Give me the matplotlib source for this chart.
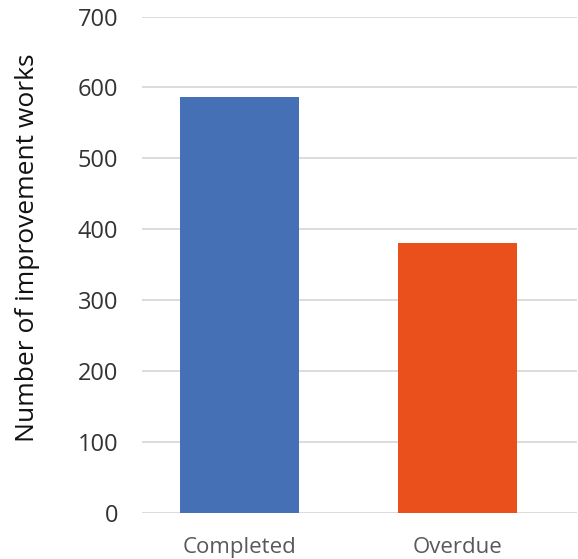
import matplotlib.pyplot as plt
import numpy as np

categories = ['Completed', 'Overdue']
works = [586, 380]
bar_colors = ['#4570b6', '#ea501c']

plt.rcParams['font.family'] = ['Open Sans', 'DejaVu Sans']

fig = plt.figure(figsize=(5.78, 5.59), dpi=100)
ax = fig.add_axes([142 / 578, 46 / 559, 435 / 578, 496.5 / 559])

x = np.arange(len(categories))
ax.bar(x, works, 0.546, color=bar_colors, zorder=3)

ax.set_ylim(0, 700)
ax.set_xlim(-0.447, 1.548)
ax.set_yticks(np.arange(0, 701, 100))
ax.set_xticks(x)
ax.set_xticklabels(categories, fontsize=16, color='#595959')
ax.tick_params(axis='y', labelsize=17, labelcolor='#333333', length=0, pad=17)
ax.tick_params(axis='x', length=0, pad=17)
ax.yaxis.grid(True, color='#d9d9d9', linewidth=1.3, zorder=0)
for s in ax.spines.values():
	s.set_visible(False)

ax.set_ylabel('Number of improvement works', fontsize=19, color='#111111', labelpad=27)
ax.yaxis.label.set_y(0.535)

fig.savefig('out.png', dpi=100)
